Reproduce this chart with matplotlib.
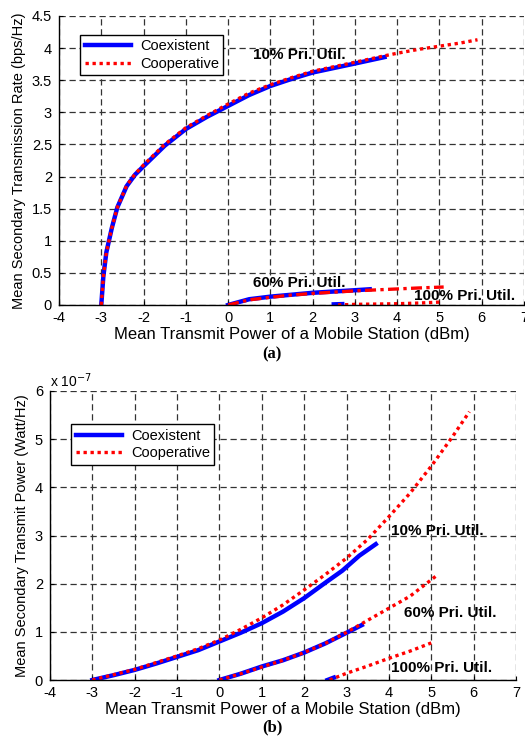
import matplotlib
matplotlib.use("Agg")
import matplotlib.pyplot as plt
from matplotlib.lines import Line2D

plt.rcParams["font.family"] = ["Liberation Sans", "DejaVu Sans"]
plt.rcParams["axes.unicode_minus"] = False

# (a) Mean secondary transmission rate (bps/Hz)
a10_coex_x = [-3.0, -2.95, -2.88, -2.75, -2.62, -2.4, -2.2, -2.0, -1.5, -1.0, -0.5, 0.0, 0.5, 1.0, 1.5, 2.0, 2.5, 3.0, 3.7]
a10_coex_y = [0.0, 0.45, 0.82, 1.2, 1.52, 1.85, 2.03, 2.16, 2.48, 2.74, 2.93, 3.1, 3.27, 3.41, 3.52, 3.62, 3.69, 3.76, 3.86]
a10_coop_x = [-3.0, -2.95, -2.88, -2.75, -2.62, -2.4, -2.2, -2.0, -1.5, -1.0, -0.5, 0.0, 0.5, 1.0, 1.5, 2.0, 2.5, 3.0, 3.7, 4.0, 4.5, 5.0, 5.5, 5.9]
a10_coop_y = [0.0, 0.45, 0.82, 1.2, 1.52, 1.86, 2.04, 2.18, 2.5, 2.76, 2.95, 3.13, 3.3, 3.43, 3.54, 3.64, 3.71, 3.78, 3.88, 3.92, 3.98, 4.03, 4.08, 4.13]
a60_coex_x = [0.0, 0.5, 1.0, 1.5, 2.0, 2.5, 3.0, 3.35]
a60_coex_y = [0.0, 0.09, 0.13, 0.16, 0.19, 0.21, 0.23, 0.245]
a60_coop_x = [0.0, 0.5, 1.0, 1.5, 2.0, 2.5, 3.0, 3.5, 4.0, 4.5, 5.1]
a60_coop_y = [0.0, 0.08, 0.12, 0.155, 0.18, 0.2, 0.22, 0.235, 0.25, 0.265, 0.28]
a100_coex_x = [2.5, 2.6, 2.7]
a100_coex_y = [0.01, 0.012, 0.014]
a100_coop_x = [2.6, 3.0, 3.5, 4.0, 4.5, 5.0]
a100_coop_y = [0.0, 0.01, 0.015, 0.02, 0.03, 0.045]

# (b) Mean secondary transmit power (x 1e-7 Watt/Hz)
b10_coex_x = [-3.0, -2.5, -2.0, -1.5, -1.0, -0.5, 0.0, 0.5, 1.0, 1.5, 2.0, 2.5, 2.9, 3.3, 3.69]
b10_coex_y = [0.0, 0.1, 0.21, 0.34, 0.48, 0.62, 0.8, 0.98, 1.18, 1.42, 1.7, 2.02, 2.27, 2.58, 2.82]
b10_coop_x = [-3.0, -2.5, -2.0, -1.5, -1.0, -0.5, 0.0, 0.5, 1.0, 1.5, 2.0, 2.5, 3.0, 3.5, 4.0, 4.5, 5.0, 5.5, 5.9]
b10_coop_y = [0.0, 0.11, 0.22, 0.36, 0.5, 0.65, 0.83, 1.05, 1.29, 1.56, 1.87, 2.19, 2.53, 2.92, 3.39, 3.88, 4.44, 5.05, 5.57]
b60_coex_x = [0.0, 0.5, 1.0, 1.5, 2.0, 2.5, 3.0, 3.36]
b60_coex_y = [0.0, 0.13, 0.28, 0.41, 0.57, 0.76, 0.98, 1.14]
b60_coop_x = [0.0, 0.5, 1.0, 1.5, 2.0, 2.5, 3.0, 3.5, 4.0, 4.5, 5.13]
b60_coop_y = [0.0, 0.13, 0.27, 0.41, 0.57, 0.76, 0.99, 1.24, 1.49, 1.74, 2.17]
b100_coex_x = [2.55, 2.7]
b100_coex_y = [0.0, 0.05]
b100_coop_x = [2.6, 3.0, 3.5, 4.0, 4.5, 5.0]
b100_coop_y = [0.0, 0.14, 0.29, 0.45, 0.6, 0.77]

xticks = list(range(-4, 8))
W, H = 525, 738
BLUE = "#0000ff"
RED = "#ff0000"
DOT = (0, (1, 1.1))
DASHDOT = (0, (3.3, 1.3, 1, 1.3))

fig = plt.figure(figsize=(W / 100, H / 100), dpi=100)


def make_axes(l, t, r, b):
    return fig.add_axes([l / W, 1 - b / H, (r - l) / W, (b - t) / H])


def style(ax, ylim, yticks, ylabel):
    ax.set_xlim(-4, 7)
    ax.set_ylim(*ylim)
    ax.set_xticks(xticks)
    ax.set_yticks(yticks)
    ax.spines["top"].set_visible(False)
    ax.spines["right"].set_visible(False)
    ax.grid(True, color="0.2", linestyle=(0, (5, 3)), linewidth=0.9)
    ax.tick_params(direction="in", length=3, labelsize=10.5)
    ax.tick_params(axis="x", pad=4)
    ax.tick_params(axis="y", pad=5)
    ax.set_xlabel("Mean Transmit Power of a Mobile Station (dBm)", fontsize=12, labelpad=2)
    ax.set_ylabel(ylabel, fontsize=10.5, labelpad=4)
    for s in ("left", "bottom"):
        ax.spines[s].set_linewidth(1.0)


def add_legend(ax, anchor):
    handles = [Line2D([], [], color=BLUE, lw=3.2),
               Line2D([], [], color=RED, lw=2.4, linestyle=DOT)]
    leg = ax.legend(handles, ["Coexistent", "Cooperative"], loc="upper left",
                    bbox_to_anchor=anchor, fontsize=10.5, fancybox=False,
                    framealpha=1, edgecolor="k", handlelength=3.2,
                    borderpad=0.3, labelspacing=0.25, handletextpad=0.6)
    leg.get_frame().set_linewidth(1.0)


# ---- (a)
ax1 = make_axes(59, 16, 524, 305)
ax1.plot(a10_coex_x, a10_coex_y, color=BLUE, lw=3.2)
ax1.plot(a10_coop_x, a10_coop_y, color=RED, lw=2.4, linestyle=DOT)
ax1.plot(a60_coex_x, a60_coex_y, color=BLUE, lw=3.2)
ax1.plot(a60_coop_x, a60_coop_y, color=RED, lw=2.4, linestyle=DASHDOT)
ax1.plot(a100_coex_x, a100_coex_y, color=BLUE, lw=3.2)
ax1.plot(a100_coop_x, a100_coop_y, color=RED, lw=2.4, linestyle=DOT)
style(ax1, (0, 4.5), [0, 0.5, 1, 1.5, 2, 2.5, 3, 3.5, 4, 4.5],
      "Mean Secondary Transmission Rate (bps/Hz)")
ax1.set_yticklabels(["0", "0.5", "1", "1.5", "2", "2.5", "3", "3.5", "4", "4.5"])
add_legend(ax1, (0.03, 0.96))
ax1.text(0.6, 3.9, "10% Pri. Util.", fontsize=11, fontweight="bold", va="center")
ax1.text(0.6, 0.35, "60% Pri. Util.", fontsize=11, fontweight="bold", va="center")
ax1.text(4.4, 0.14, "100% Pri. Util.", fontsize=11, fontweight="bold", va="center")
fig.text(272 / W, 1 - 354 / H, "(a)", fontsize=12, fontweight="bold",
         family="Liberation Serif", ha="center", va="center")

# ---- (b)
ax2 = make_axes(50, 391, 516, 680)
ax2.plot(b10_coex_x, b10_coex_y, color=BLUE, lw=3.2)
ax2.plot(b10_coop_x, b10_coop_y, color=RED, lw=2.4, linestyle=DOT)
ax2.plot(b60_coex_x, b60_coex_y, color=BLUE, lw=3.2)
ax2.plot(b60_coop_x, b60_coop_y, color=RED, lw=2.4, linestyle=DOT)
ax2.plot(b100_coex_x, b100_coex_y, color=BLUE, lw=3.2)
ax2.plot(b100_coop_x, b100_coop_y, color=RED, lw=2.4, linestyle=DOT)
style(ax2, (0, 6), [0, 1, 2, 3, 4, 5, 6], "Mean Secondary Transmit Power (Watt/Hz)")
ax2.text(0.0, 1.015, r"x 10$^{-7}$", transform=ax2.transAxes, fontsize=10)
add_legend(ax2, (0.03, 0.91))
ax2.text(4.05, 3.1, "10% Pri. Util.", fontsize=11, fontweight="bold", va="center")
ax2.text(4.35, 1.4, "60% Pri. Util.", fontsize=11, fontweight="bold", va="center")
ax2.text(4.05, 0.25, "100% Pri. Util.", fontsize=11, fontweight="bold", va="center")
fig.text(272 / W, 1 - 727 / H, "(b)", fontsize=12, fontweight="bold",
         family="Liberation Serif", ha="center", va="center")

fig.savefig("out.png", dpi=100)
